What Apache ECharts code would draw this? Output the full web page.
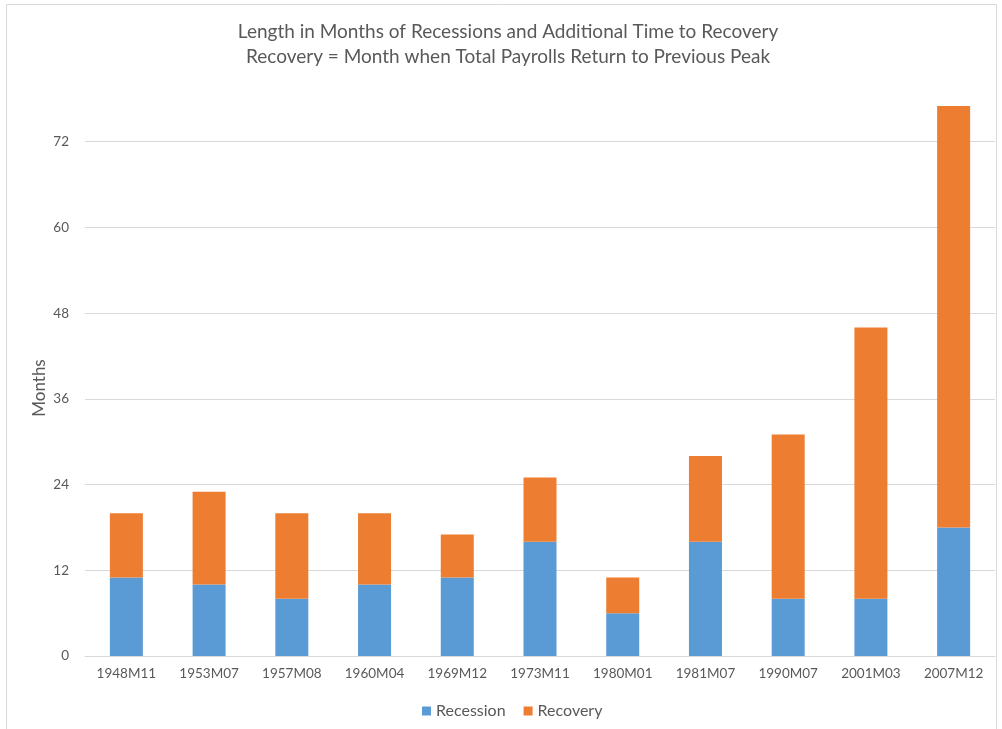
<!DOCTYPE html>
<html>
<head>
<meta charset="utf-8">
<script src="https://cdn.jsdelivr.net/npm/echarts@6/dist/echarts.min.js"></script>
<style>
  html, body { margin: 0; padding: 0; background: #ffffff; }
  #chart { width: 1002px; height: 729px; }
</style>
</head>
<body>
<div id="chart"></div>
<script>
// Recession start dates (category labels)
const categories = ['1948M11', '1953M07', '1957M08', '1960M04', '1969M12', '1973M11',
                    '1980M01', '1981M07', '1990M07', '2001M03', '2007M12'];
// Length of each recession, in months
const recession = [11, 10, 8, 10, 11, 16, 6, 16, 8, 8, 18];
// Additional months until total payrolls returned to the previous peak
const recovery = [9, 13, 12, 10, 6, 9, 5, 12, 23, 38, 59];

const titleLines = [
  'Length in Months of Recessions and Additional Time to Recovery',
  'Recovery = Month when Total Payrolls Return to Previous Peak'
];

const FONT = 'Lato, "Open Sans", sans-serif';
const TEXT = '#595959';

const chart = echarts.init(document.getElementById('chart'), null, { renderer: 'canvas' });

chart.setOption({
  backgroundColor: '#ffffff',
  animation: false,
  title: {
    text: titleLines.join('\n'),
    left: 503,
    textAlign: 'center',
    top: 14,
    textStyle: { fontFamily: FONT, fontSize: 19, fontWeight: 'normal', color: TEXT, lineHeight: 25 }
  },
  graphic: [
    {
      type: 'rect',
      shape: { x: 6.5, y: 4.5, width: 990, height: 740 },
      style: { fill: 'none', stroke: '#d9d9d9', lineWidth: 1 },
      silent: true
    },
    {
      type: 'text',
      x: 40, y: 388,
      rotation: Math.PI / 2,
      style: { text: 'Months', font: '17px ' + FONT, fill: TEXT, textAlign: 'center', textVerticalAlign: 'middle' }
    }
  ],
  legend: {
    bottom: 5,
    left: 417,
    itemWidth: 9,
    itemHeight: 9,
    itemGap: 18,
    icon: 'rect',
    textStyle: { fontFamily: FONT, fontSize: 16, color: TEXT, padding: [0, 0, 0, 0] },
    data: ['Recession', 'Recovery']
  },
  grid: { left: 85, right: 7, top: 56, bottom: 73, containLabel: false },
  xAxis: {
    type: 'category',
    data: categories,
    axisLine: { show: true, lineStyle: { color: '#d9d9d9', width: 1 } },
    axisTick: { show: false },
    axisLabel: { fontFamily: FONT, fontSize: 13.5, color: TEXT, margin: 11 }
  },
  yAxis: {
    type: 'value',
    min: 0,
    max: 84,
    interval: 12,
    axisLine: { show: false },
    axisTick: { show: false },
    axisLabel: { fontFamily: FONT, fontSize: 13.5, color: TEXT, margin: 16, showMaxLabel: false },
    splitLine: { show: true, showMaxLine: false, lineStyle: { color: '#d9d9d9', width: 1 } }
  },
  series: [
    {
      name: 'Recession',
      type: 'bar',
      stack: 'total',
      barWidth: 33,
      itemStyle: { color: '#5B9BD5' },
      data: recession
    },
    {
      name: 'Recovery',
      type: 'bar',
      stack: 'total',
      barWidth: 33,
      itemStyle: { color: '#ED7D31' },
      data: recovery
    }
  ]
});
</script>
</body>
</html>
